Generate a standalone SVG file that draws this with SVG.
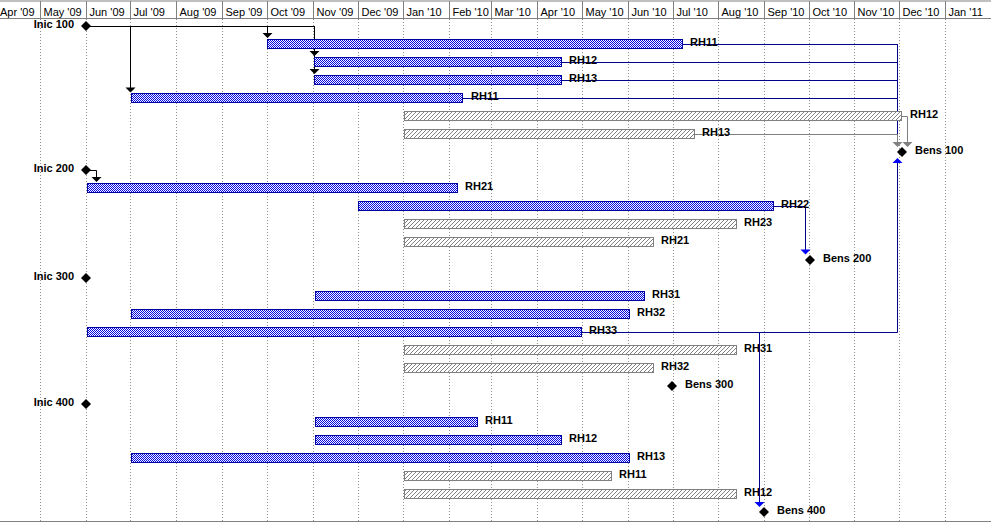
<svg xmlns="http://www.w3.org/2000/svg" width="991" height="523" viewBox="0 0 991 523">
<style>
.hdr{font-family:"Liberation Sans",Arial,sans-serif;font-size:11px;fill:#000}
.lbl{font-family:"Liberation Sans",Arial,sans-serif;font-size:11px;font-weight:bold;fill:#000}
.grid{stroke:#909090;stroke-width:1;stroke-dasharray:1 2;fill:none}
.hline{stroke:#808080;stroke-width:1;fill:none}
.bb{fill:url(#chk);stroke:#0000A0;stroke-width:1}
.gb{fill:url(#hatch);stroke:#808080;stroke-width:1}
.ms{fill:#000}
.blk{stroke:#000;stroke-width:1;fill:none}
.nav{stroke:#000090;stroke-width:1;fill:none}
.gry{stroke:#808080;stroke-width:1;fill:none}
.ab{fill:#000}
.ablue{fill:#0000FF}
.agray{fill:#808080}
</style>
<defs>
<pattern id="chk" patternUnits="userSpaceOnUse" width="2" height="2">
<rect width="2" height="2" fill="#fff"/>
<rect x="0" y="0" width="1" height="1" fill="#0000E0"/>
<rect x="1" y="1" width="1" height="1" fill="#0000E0"/>
</pattern>
<pattern id="hatch" patternUnits="userSpaceOnUse" width="4" height="4">
<rect width="4" height="4" fill="#fff"/>
<path d="M-1,1 l2,-2 M0,4 l4,-4 M3,5 l2,-2" stroke="#808080" stroke-width="1"/>
</pattern>
</defs>
<rect width="991" height="523" fill="#fff"/>
<g id="timescale">
<line class="hline" x1="0" y1="1" x2="991" y2="1"/>
<line class="hline" x1="0" y1="18.5" x2="991" y2="18.5"/>
<line class="hline" x1="0" y1="521.5" x2="991" y2="521.5"/>
<g class="hline">
<line x1="40.5" y1="1" x2="40.5" y2="18"/>
<line x1="86.5" y1="1" x2="86.5" y2="18"/>
<line x1="130.5" y1="1" x2="130.5" y2="18"/>
<line x1="176.5" y1="1" x2="176.5" y2="18"/>
<line x1="222.5" y1="1" x2="222.5" y2="18"/>
<line x1="267.5" y1="1" x2="267.5" y2="18"/>
<line x1="313.5" y1="1" x2="313.5" y2="18"/>
<line x1="358.5" y1="1" x2="358.5" y2="18"/>
<line x1="403.5" y1="1" x2="403.5" y2="18"/>
<line x1="449.5" y1="1" x2="449.5" y2="18"/>
<line x1="491.5" y1="1" x2="491.5" y2="18"/>
<line x1="537.5" y1="1" x2="537.5" y2="18"/>
<line x1="582.5" y1="1" x2="582.5" y2="18"/>
<line x1="628.5" y1="1" x2="628.5" y2="18"/>
<line x1="673.5" y1="1" x2="673.5" y2="18"/>
<line x1="718.5" y1="1" x2="718.5" y2="18"/>
<line x1="764.5" y1="1" x2="764.5" y2="18"/>
<line x1="809.5" y1="1" x2="809.5" y2="18"/>
<line x1="854.5" y1="1" x2="854.5" y2="18"/>
<line x1="899.5" y1="1" x2="899.5" y2="18"/>
<line x1="945.5" y1="1" x2="945.5" y2="18"/>
</g>
<text class="hdr" x="0" y="16">Apr '09</text>
<text class="hdr" x="43.5" y="16">May '09</text>
<text class="hdr" x="89.5" y="16">Jun '09</text>
<text class="hdr" x="133.5" y="16">Jul '09</text>
<text class="hdr" x="179.5" y="16">Aug '09</text>
<text class="hdr" x="225.5" y="16">Sep '09</text>
<text class="hdr" x="270.5" y="16">Oct '09</text>
<text class="hdr" x="316.5" y="16">Nov '09</text>
<text class="hdr" x="361.5" y="16">Dec '09</text>
<text class="hdr" x="406.5" y="16">Jan '10</text>
<text class="hdr" x="452.5" y="16">Feb '10</text>
<text class="hdr" x="494.5" y="16">Mar '10</text>
<text class="hdr" x="540.5" y="16">Apr '10</text>
<text class="hdr" x="585.5" y="16">May '10</text>
<text class="hdr" x="631.5" y="16">Jun '10</text>
<text class="hdr" x="676.5" y="16">Jul '10</text>
<text class="hdr" x="721.5" y="16">Aug '10</text>
<text class="hdr" x="767.5" y="16">Sep '10</text>
<text class="hdr" x="812.5" y="16">Oct '10</text>
<text class="hdr" x="857.5" y="16">Nov '10</text>
<text class="hdr" x="902.5" y="16">Dec '10</text>
<text class="hdr" x="948.5" y="16">Jan '11</text>
</g>
<g id="gridlines" class="grid">
<line x1="40.5" y1="19" x2="40.5" y2="521"/>
<line x1="86.5" y1="19" x2="86.5" y2="521"/>
<line x1="130.5" y1="19" x2="130.5" y2="521"/>
<line x1="176.5" y1="19" x2="176.5" y2="521"/>
<line x1="222.5" y1="19" x2="222.5" y2="521"/>
<line x1="267.5" y1="19" x2="267.5" y2="521"/>
<line x1="313.5" y1="19" x2="313.5" y2="521"/>
<line x1="358.5" y1="19" x2="358.5" y2="521"/>
<line x1="403.5" y1="19" x2="403.5" y2="521"/>
<line x1="449.5" y1="19" x2="449.5" y2="521"/>
<line x1="491.5" y1="19" x2="491.5" y2="521"/>
<line x1="537.5" y1="19" x2="537.5" y2="521"/>
<line x1="582.5" y1="19" x2="582.5" y2="521"/>
<line x1="628.5" y1="19" x2="628.5" y2="521"/>
<line x1="673.5" y1="19" x2="673.5" y2="521"/>
<line x1="718.5" y1="19" x2="718.5" y2="521"/>
<line x1="764.5" y1="19" x2="764.5" y2="521"/>
<line x1="809.5" y1="19" x2="809.5" y2="521"/>
<line x1="854.5" y1="19" x2="854.5" y2="521"/>
<line x1="899.5" y1="19" x2="899.5" y2="521"/>
<line x1="945.5" y1="19" x2="945.5" y2="521"/>
</g>
<g id="connectors">
<path class="blk" d="M86,26.5 H314.5 M130.5,26 V88 M267.5,26 V33 M314.5,26 V70"/>
<path class="ab" d="M125.5,87.5 h10 l-5,5 z M262.5,33 h10 l-5,5 z M309.5,51 h10 l-5,5 z M309.5,69 h10 l-5,5 z"/>
<path class="blk" d="M86,170.5 H96.5 V177.5"/>
<path class="ab" d="M91.5,177 h10 l-5,5 z"/>
<path class="nav" d="M683,44.5 H897.5 M562,62.5 H897.5 M562,80.5 H897.5 M463,98.5 H897.5 M897.5,44 V143"/>
<path class="gry" d="M902,116.5 H907.5 V142 M695,134.5 H897.5 V142"/>
<path class="agray" d="M892.5,142 h10 l-5,5 z M902.5,142 h10 l-5,5 z"/>
<path class="nav" d="M581,332.5 H897.5 V163 M759.5,332 V502"/>
<path class="ablue" d="M892.5,163 h10 l-5,-5 z M754.5,502 h10 l-5,5 z"/>
<path class="nav" d="M773,206.5 H805.5 V250"/>
<path class="ablue" d="M800.5,249.5 h10 l-5,5 z"/>
</g>
<g id="inic100"><path class="ms" d="M86,21 l5,5 l-5,5 l-5,-5 z"/><text class="lbl" x="74" y="28" text-anchor="end">Inic 100</text></g>
<g id="t1"><rect class="bb" x="267.5" y="39.5" width="415" height="9"/><text class="lbl" x="690" y="46">RH11</text></g>
<g id="t2"><rect class="bb" x="314.5" y="57.5" width="247" height="9"/><text class="lbl" x="569" y="64">RH12</text></g>
<g id="t3"><rect class="bb" x="314.5" y="75.5" width="247" height="9"/><text class="lbl" x="569" y="82">RH13</text></g>
<g id="t4"><rect class="bb" x="131.5" y="93.5" width="331" height="9"/><text class="lbl" x="471" y="100">RH11</text></g>
<g id="t5"><rect class="gb" x="404.5" y="111.5" width="497" height="9"/><text class="lbl" x="910" y="118">RH12</text></g>
<g id="t6"><rect class="gb" x="404.5" y="129.5" width="290" height="9"/><text class="lbl" x="702" y="136">RH13</text></g>
<g id="bens100"><path class="ms" d="M902,147 l5,5 l-5,5 l-5,-5 z"/><text class="lbl" x="915" y="154">Bens 100</text></g>
<g id="inic200"><path class="ms" d="M86,165 l5,5 l-5,5 l-5,-5 z"/><text class="lbl" x="74" y="172" text-anchor="end">Inic 200</text></g>
<g id="t9"><rect class="bb" x="87.5" y="183.5" width="370" height="9"/><text class="lbl" x="465" y="190">RH21</text></g>
<g id="t10"><rect class="bb" x="358.5" y="201.5" width="415" height="9"/><text class="lbl" x="781" y="208">RH22</text></g>
<g id="t11"><rect class="gb" x="404.5" y="219.5" width="332" height="9"/><text class="lbl" x="744" y="226">RH23</text></g>
<g id="t12"><rect class="gb" x="404.5" y="237.5" width="249" height="9"/><text class="lbl" x="661" y="244">RH21</text></g>
<g id="bens200"><path class="ms" d="M810,255 l5,5 l-5,5 l-5,-5 z"/><text class="lbl" x="823" y="262">Bens 200</text></g>
<g id="inic300"><path class="ms" d="M86,273 l5,5 l-5,5 l-5,-5 z"/><text class="lbl" x="74" y="280" text-anchor="end">Inic 300</text></g>
<g id="t15"><rect class="bb" x="315.5" y="291.5" width="329" height="9"/><text class="lbl" x="652" y="298">RH31</text></g>
<g id="t16"><rect class="bb" x="131.5" y="309.5" width="498" height="9"/><text class="lbl" x="637" y="316">RH32</text></g>
<g id="t17"><rect class="bb" x="87.5" y="327.5" width="494" height="9"/><text class="lbl" x="589" y="334">RH33</text></g>
<g id="t18"><rect class="gb" x="404.5" y="345.5" width="332" height="9"/><text class="lbl" x="744" y="352">RH31</text></g>
<g id="t19"><rect class="gb" x="404.5" y="363.5" width="249" height="9"/><text class="lbl" x="661" y="370">RH32</text></g>
<g id="bens300"><path class="ms" d="M672,381 l5,5 l-5,5 l-5,-5 z"/><text class="lbl" x="685" y="388">Bens 300</text></g>
<g id="inic400"><path class="ms" d="M86,399 l5,5 l-5,5 l-5,-5 z"/><text class="lbl" x="74" y="406" text-anchor="end">Inic 400</text></g>
<g id="t22"><rect class="bb" x="315.5" y="417.5" width="162" height="9"/><text class="lbl" x="485" y="424">RH11</text></g>
<g id="t23"><rect class="bb" x="315.5" y="435.5" width="246" height="9"/><text class="lbl" x="569" y="442">RH12</text></g>
<g id="t24"><rect class="bb" x="131.5" y="453.5" width="498" height="9"/><text class="lbl" x="637" y="460">RH13</text></g>
<g id="t25"><rect class="gb" x="404.5" y="471.5" width="207" height="9"/><text class="lbl" x="619" y="478">RH11</text></g>
<g id="t26"><rect class="gb" x="404.5" y="489.5" width="332" height="9"/><text class="lbl" x="744" y="496">RH12</text></g>
<g id="bens400"><path class="ms" d="M764,507 l5,5 l-5,5 l-5,-5 z"/><text class="lbl" x="777" y="514">Bens 400</text></g>
</svg>
